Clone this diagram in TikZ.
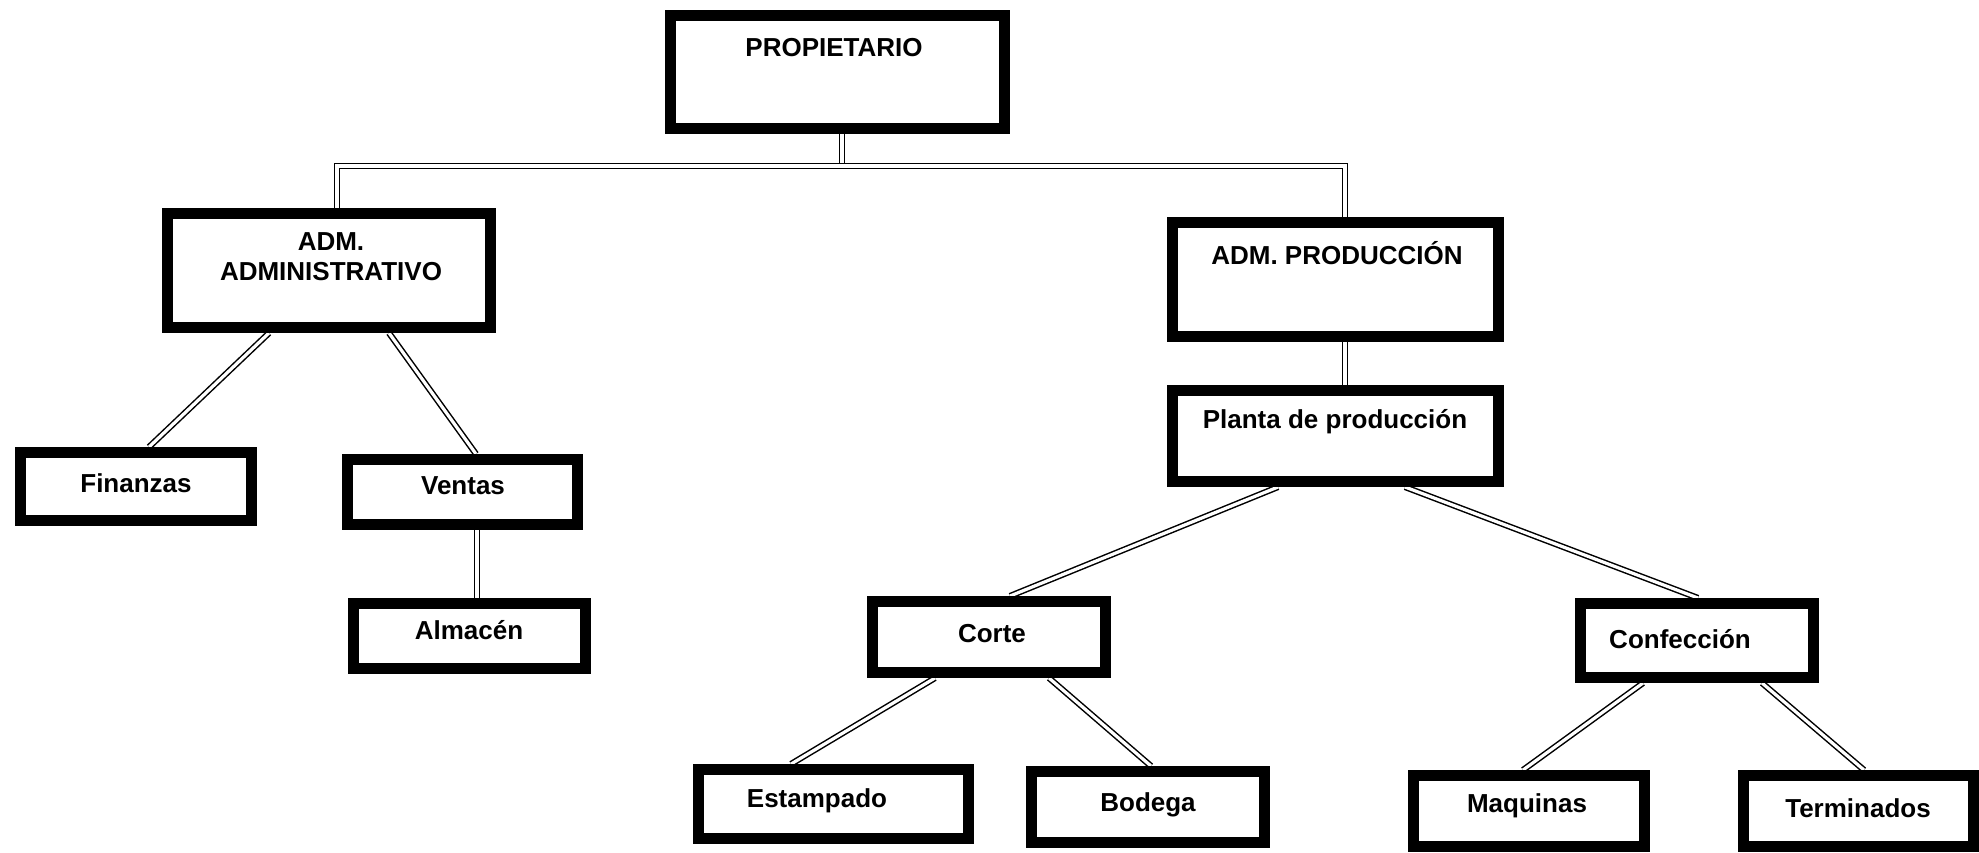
\documentclass[tikz,border=0pt]{standalone}
\usepackage{fontspec}
\setmainfont{Liberation Sans}
\usetikzlibrary{calc,backgrounds}
\begin{document}
\begin{tikzpicture}[x=0.5pt,y=-0.5pt,
  box/.style={draw=black,line width=5.5pt,fill=white,inner sep=0pt,rectangle},
  lbl/.style={font=\fontsize{13}{15}\selectfont\bfseries,align=center,inner sep=0pt},
  conn/.style={draw=black,double=white,double distance=1.6pt,line width=0.75pt}]
\useasboundingbox (0,0) rectangle (1979,852);
% boxes (centre, stroke-path size)
\node[box,minimum width=167pt,minimum height=56.5pt] (prop) at (837.5,72) {};
\node[box,minimum width=161.5pt,minimum height=57pt] (admadm) at (329,270.5) {};
\node[box,minimum width=163pt,minimum height=57pt] (admprod) at (1335.5,279.5) {};
\node[box,minimum width=163pt,minimum height=45.5pt] (planta) at (1335.5,436) {};
\node[box,minimum width=115.5pt,minimum height=34pt] (fin) at (136,486.5) {};
\node[box,minimum width=115pt,minimum height=32.5pt] (ventas) at (462.5,492) {};
\node[box,minimum width=116pt,minimum height=32.5pt] (almacen) at (469.5,636) {};
\node[box,minimum width=116.5pt,minimum height=35.5pt] (corte) at (989,637) {};
\node[box,minimum width=116.5pt,minimum height=37pt] (confec) at (1697,640.5) {};
\node[box,minimum width=135pt,minimum height=34.5pt] (estamp) at (833.5,804) {};
\node[box,minimum width=116.5pt,minimum height=35.5pt] (bodega) at (1148,807) {};
\node[box,minimum width=115.5pt,minimum height=35.5pt] (maq) at (1529,811) {};
\node[box,minimum width=115pt,minimum height=35.5pt] (term) at (1858.5,811) {};
% texts
\node[lbl] (tprop) at (834,48) {PROPIETARIO};
\node[lbl] (tadmadm) at (331,257) {ADM.\\ADMINISTRATIVO};
\node[lbl] (tadmprod) at (1337,253) {ADM. PRODUCCIÓN};
\node[lbl] (tplanta) at (1335,422) {Planta de producción};
\node[lbl] (tfin) at (136,483) {Finanzas};
\node[lbl] (tventas) at (463,486) {Ventas};
\node[lbl] (talmacen) at (469,630) {Almacén};
\node[lbl] (tcorte) at (992,634) {Corte};
\node[lbl] (tconfec) at (1680,639) {Confección};
\node[lbl] (testamp) at (817,801) {Estampado};
\node[lbl] (tbodega) at (1148,805) {Bodega};
\node[lbl] (tmaq) at (1527,806) {Maquinas};
\node[lbl] (tterm) at (1858,808) {Terminados};
% connectors
\begin{pgfonlayer}{background}
\coordinate (bus) at ($(prop.south)+(4.5,32)$);
\draw[conn] ($(prop.south)+(4.5,0)$) -- (bus);
\draw[conn] ($(admadm.north)+(8,0)$) |- (bus) -| ($(admprod.north)+(9.5,0)$);
\draw[conn] ($(admprod.south)+(9.5,0)$) -- ($(planta.north)+(9.5,0)$);
\draw[conn] ($(admadm.south)+(-60,0)$) -- ($(fin.north)+(13,0)$);
\draw[conn] ($(admadm.south)+(60,0)$) -- ($(ventas.north)+(13.5,0)$);
\draw[conn] ($(ventas.south)+(14.5,0)$) -- ($(almacen.north)+(7.5,0)$);
\draw[conn] ($(planta.south)+(-57.5,0)$) -- ($(corte.north)+(21,0)$);
\draw[conn] ($(planta.south)+(69.5,0)$) -- ($(confec.north)+(1,0)$);
\draw[conn] ($(corte.south)+(-54,0)$) -- ($(estamp.north)+(-42.5,0)$);
\draw[conn] ($(corte.south)+(60,0)$) -- ($(bodega.north)+(3,0)$);
\draw[conn] ($(confec.south)+(-54,0)$) -- ($(maq.north)+(-6,0)$);
\draw[conn] ($(confec.south)+(65,0)$) -- ($(term.north)+(5.5,0)$);
\end{pgfonlayer}
\end{tikzpicture}
\end{document}
